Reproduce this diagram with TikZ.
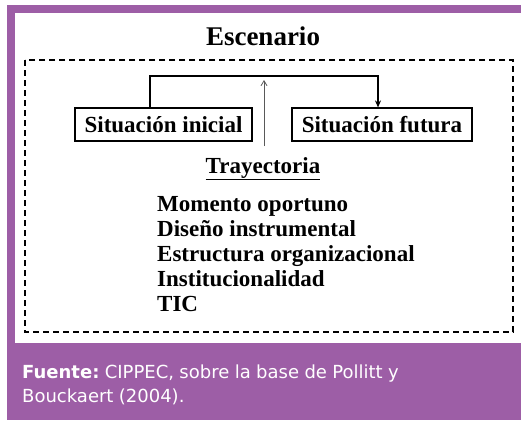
\documentclass[tikz,border=0pt]{standalone}
\usepackage{fontspec}
\setmainfont{Liberation Serif}
\newfontfamily\footfont{DejaVu Sans}
\usetikzlibrary{arrows.meta}
\definecolor{purp}{RGB}{157,94,166}
\tikzset{
  sbox/.style={draw,line width=1.2pt,minimum width=#1,minimum height=33pt,inner sep=0pt,font=\fontsize{23}{26}\selectfont\bfseries},
  item/.style={anchor=base west,inner sep=0pt,font=\fontsize{23}{26}\selectfont\bfseries},
  foot/.style={anchor=base west,inner sep=0pt,text=white,font=\footfont\fontsize{18}{20}\selectfont}
}
\begin{document}
\begin{tikzpicture}[x=1pt,y=-1pt]
\useasboundingbox (0,0) rectangle (521,423);
\fill[white] (0,0) rectangle (521,423);
\fill[purp] (7,5) rectangle (521,420);
\fill[white] (15,13) rectangle (521,343);
\draw[line width=1.3pt,dash pattern=on 6pt off 4pt] (25,60) rectangle (513,332);
\node[anchor=base,inner sep=0pt,font=\fontsize{27}{30}\selectfont\bfseries] (esc) at (263,45) {Escenario};
\node[sbox=177pt] (ini) at (163.5,124.5) {Situación inicial};
\node[sbox=180pt] (fut) at (382,124.5) {Situación futura};
\coordinate (c1) at (150,76);
\coordinate (c2) at (378,76);
\draw[line width=1.2pt,-{Stealth[length=7pt,width=6pt]}] (ini.north -| c1) -- (c1) -- (c2) -- (fut.north -| c2);
\node[anchor=base,inner sep=0pt,font=\fontsize{23}{26}\selectfont\bfseries] (tray) at (263,173) {\underline{Trayectoria}};
\coordinate (vb) at (264,146);
\coordinate (vt) at (264,80);
\draw[gray!70!black,line width=0.8pt,-{Straight Barb[length=5pt,width=6pt]}] (vb) -- (vt);
\node[item] (m1) at (157,211) {Momento oportuno};
\node[item] (m2) at (157,236) {Diseño instrumental};
\node[item] (m3) at (157,261) {Estructura organizacional};
\node[item] (m4) at (157,286) {Institucionalidad};
\node[item] (m5) at (157,311) {TIC};
\node[foot] (f1) at (22,378) {\textbf{Fuente:}\fontdimen2\font=0.3em\ CIPPEC, sobre la base de Pollitt y};
\node[foot] (f2) at (22,402) {Bouckaert (2004).};
\end{tikzpicture}
\end{document}
